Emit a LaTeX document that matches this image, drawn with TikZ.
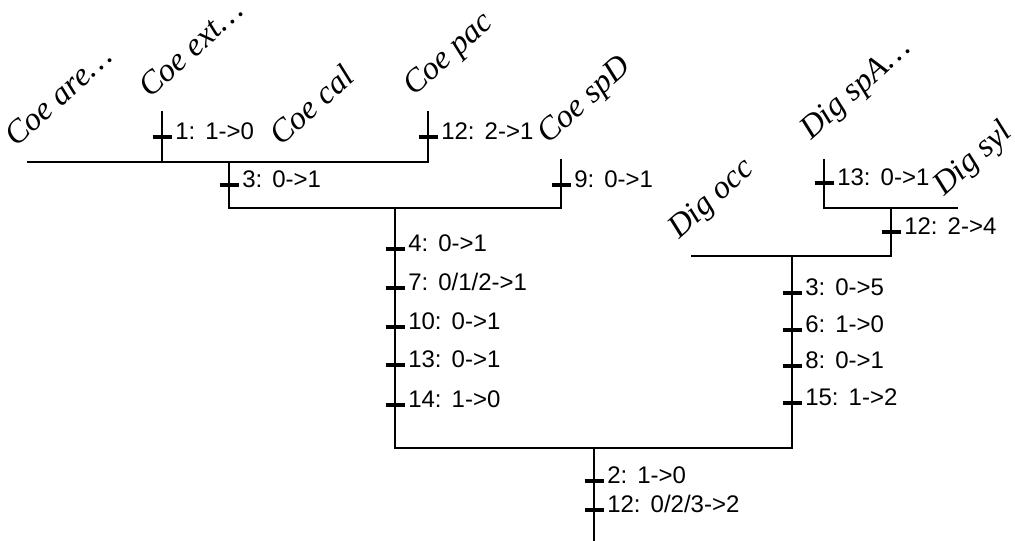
\documentclass[tikz,border=0pt]{standalone}
\usepackage{fontspec}
\setmainfont{Liberation Serif}
\newfontfamily\labfont{Liberation Sans}
\begin{document}
\begin{tikzpicture}[x=0.75pt,y=-0.75pt,
  br/.style={line width=1.5pt, line cap=rect},
  chg/.style={line width=3pt},
  lab/.style={font=\labfont\fontsize{18}{18}\selectfont, anchor=base west, inner sep=0pt},
  taxon/.style={font=\itshape\fontsize{24.5}{24.5}\selectfont, anchor=base west, rotate=42, inner sep=0pt}]
\useasboundingbox (0,0) rectangle (1015,540);
\newcommand\chgmark[4]{%
  \coordinate (#1) at (#2,#3);
  \draw[chg] ([shift={(-9.5,0)}]#1) -- ([shift={(9.5,0)}]#1);
  \node[lab] (#1l) at ([shift={(13,2)}]#1) {#4};}
\newcommand\gap{\hspace{0.42em}}
% tree vertices
\coordinate (a) at (28,162);
\coordinate (b) at (162,112);
\coordinate (bb) at (162,162);
\coordinate (c) at (295,162);
\coordinate (d) at (428,112);
\coordinate (dd) at (428,162);
\coordinate (n1) at (229,162);
\coordinate (n1b) at (229,208);
\coordinate (e) at (561,160);
\coordinate (ee) at (561,208);
\coordinate (n2) at (395,208);
\coordinate (n2b) at (395,448);
\coordinate (g) at (824,160);
\coordinate (gg) at (824,208);
\coordinate (h) at (957,208);
\coordinate (n4) at (891,208);
\coordinate (n4b) at (891,256);
\coordinate (f) at (692,256);
\coordinate (n5) at (792,256);
\coordinate (n5b) at (792,448);
\coordinate (root) at (594,448);
\coordinate (rootb) at (594,540);
% branches
\draw[br] (a) -- (dd) -- (d);
\draw[br] (b) -- (bb);
\draw[br] (n1) -- (n1b) -- (ee) -- (e);
\draw[br] (n2) -- (n2b) -- (n5b) -- (n5);
\draw[br] (g) -- (gg) -- (h);
\draw[br] (n4) -- (n4b) -- (f);
\draw[br] (root) -- (rootb);
% changes
\chgmark{t1}{162}{137}{1:\gap 1->0}
\chgmark{t2}{428}{137}{12:\gap 2->1}
\chgmark{t3}{229}{185}{3:\gap 0->1}
\chgmark{t4}{561}{185}{9:\gap 0->1}
\chgmark{t5}{824}{183}{13:\gap 0->1}
\chgmark{t6}{891}{232}{12:\gap 2->4}
\chgmark{t7}{395}{249}{4:\gap 0->1}
\chgmark{t8}{395}{288}{7:\gap 0/1/2->1}
\chgmark{t9}{395}{327}{10:\gap 0->1}
\chgmark{t10}{395}{365}{13:\gap 0->1}
\chgmark{t11}{395}{405}{14:\gap 1->0}
\chgmark{t12}{792}{293}{3:\gap 0->5}
\chgmark{t13}{792}{330}{6:\gap 1->0}
\chgmark{t14}{792}{366}{8:\gap 0->1}
\chgmark{t15}{792}{403}{15:\gap 1->2}
\chgmark{t16}{594}{481}{2:\gap 1->0}
\chgmark{t17}{594}{510}{12:\gap 0/2/3->2}
% taxa
\node[taxon] (la) at ([shift={(-12,-14)}]a) {Coe are\ldots};
\node[taxon] (lb) at ([shift={(-12,-13)}]b) {Coe ext\ldots};
\node[taxon] (lc) at ([shift={(-14,-15)}]c) {Coe cal};
\node[taxon] (ld) at ([shift={(-14,-15)}]d) {Coe pac};
\node[taxon] (le) at ([shift={(-13,-15)}]e) {Coe spD};
\node[taxon] (lf) at ([shift={(-13,-16)}]f) {Dig occ};
\node[taxon] (lg) at ([shift={(-13,-19)}]g) {Dig spA\ldots};
\node[taxon] (lh) at ([shift={(-13,-11)}]h) {Dig syl};
\end{tikzpicture}
\end{document}
